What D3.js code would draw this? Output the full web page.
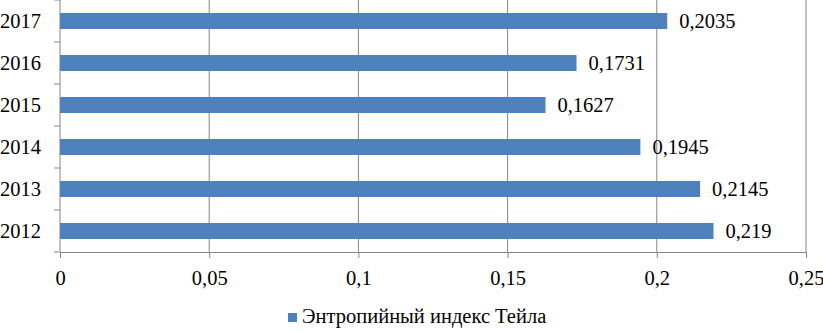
<!DOCTYPE html>
<html>
<head>
<meta charset="utf-8">
<script src="https://cdn.jsdelivr.net/npm/d3@7"></script>
<style>
  body { margin: 0; background: #fff; }
</style>
</head>
<body>
<div class="chart"></div>
<script>
var years = ["2012", "2013", "2014", "2015", "2016", "2017"];
var theil = [0.219, 0.2145, 0.1945, 0.1627, 0.1731, 0.2035];
var valueLabels = ["0,219", "0,2145", "0,1945", "0,1627", "0,1731", "0,2035"];
var xTicks = [0, 0.05, 0.1, 0.15, 0.2, 0.25];
var xTickLabels = ["0", "0,05", "0,1", "0,15", "0,2", "0,25"];
var seriesName = "Энтропийный индекс Тейла";

var serif = "'Liberation Serif', 'Times New Roman', serif";
var fontSize = "20.5px";

var margin = { top: 0, right: 17, bottom: 79, left: 60 },
    width = 823 - margin.left - margin.right,
    height = 331 - margin.top - margin.bottom;

var svg = d3.select(".chart")
    .append("svg")
    .attr("width", 823)
    .attr("height", 331);

var g = svg.append("g")
    .attr("transform", "translate(" + margin.left + "," + margin.top + ")");

var x = d3.scaleLinear()
    .domain([0, 0.25])
    .range([0, width]);

// top category first
var y = d3.scaleBand()
    .domain(years.slice().reverse())
    .range([0, height]);

// vertical gridlines
g.selectAll(".grid")
    .data(xTicks.slice(1))
    .enter()
    .append("line")
    .attr("class", "grid")
    .attr("x1", function (d) { return x(d); })
    .attr("x2", function (d) { return x(d); })
    .attr("y1", 0)
    .attr("y2", height)
    .attr("stroke", "#868686")
    .attr("stroke-width", 1);

// x axis
var xAxis = d3.axisBottom(x)
    .tickValues(xTicks)
    .tickSize(6)
    .tickFormat(function (d, i) { return xTickLabels[i]; });

var gx = g.append("g")
    .attr("transform", "translate(0," + height + ")")
    .call(xAxis);
gx.attr("font-family", null).attr("font-size", null);
gx.select(".domain").attr("stroke", "#868686");
gx.selectAll(".tick line").attr("stroke", "#868686");
gx.selectAll(".tick text")
    .attr("dy", 0)
    .attr("y", 33)
    .style("font-family", serif)
    .style("font-size", fontSize)
    .style("fill", "#000");

// y axis line and tick marks between categories
var gy = g.append("g");
gy.append("line")
    .attr("x1", 0).attr("x2", 0)
    .attr("y1", 0).attr("y2", height)
    .attr("stroke", "#868686");
var bounds = d3.range(years.length + 1).map(function (i) { return i * y.step(); });
gy.selectAll(".ytick")
    .data(bounds)
    .enter()
    .append("line")
    .attr("class", "ytick")
    .attr("x1", -6).attr("x2", 0)
    .attr("y1", function (d) { return d; })
    .attr("y2", function (d) { return d; })
    .attr("stroke", "#868686");
gy.selectAll(".ylabel")
    .data(years)
    .enter()
    .append("text")
    .attr("class", "ylabel")
    .attr("x", -19)
    .attr("y", function (d) { return y(d) + y.bandwidth() / 2; })
    .attr("dy", "0.35em")
    .style("text-anchor", "end")
    .style("font-family", serif)
    .style("font-size", fontSize)
    .text(function (d) { return d; });

// bars
var barH = 16;
g.selectAll(".bar")
    .data(years)
    .enter()
    .append("rect")
    .attr("class", "bar")
    .attr("x", 0)
    .attr("y", function (d) { return y(d) + (y.bandwidth() - barH) / 2; })
    .attr("width", function (d, i) { return x(theil[i]); })
    .attr("height", barH)
    .style("fill", "#4f81bd");

// value labels
g.selectAll(".vlabel")
    .data(years)
    .enter()
    .append("text")
    .attr("class", "vlabel")
    .attr("x", function (d, i) { return x(theil[i]) + 12; })
    .attr("y", function (d) { return y(d) + y.bandwidth() / 2; })
    .attr("dy", "0.35em")
    .style("font-family", serif)
    .style("font-size", fontSize)
    .text(function (d, i) { return valueLabels[i]; });

// legend
var legend = svg.append("g").attr("transform", "translate(288,313)");
legend.append("rect")
    .attr("x", 0).attr("y", 0)
    .attr("width", 9).attr("height", 9)
    .style("fill", "#4f81bd");
legend.append("text")
    .attr("x", 14)
    .attr("y", 10)
    .style("font-family", serif)
    .style("font-size", fontSize)
    .text(seriesName);
</script>
</body>
</html>
